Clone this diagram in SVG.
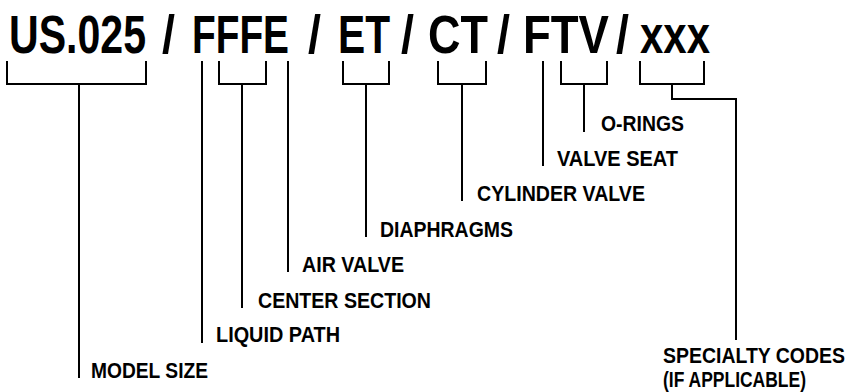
<svg xmlns="http://www.w3.org/2000/svg" width="847" height="392" viewBox="0 0 847 392">
<style>
.t{font-family:"Liberation Sans",Arial,sans-serif;font-weight:bold;fill:#000}
.title{font-size:43px}
.lbl{font-size:19px}
.c{fill:none;stroke:#000;stroke-width:2;stroke-linecap:butt;stroke-linejoin:miter}
</style>
<rect width="847" height="392" fill="#fff"/>
<g id="code">
<text class="t title" transform="translate(0,53) scale(1,1.23)" y="0"><tspan x="9" textLength="137" lengthAdjust="spacingAndGlyphs">US.025</tspan> <tspan x="162" textLength="13" lengthAdjust="spacingAndGlyphs">/</tspan> <tspan x="192" textLength="97" lengthAdjust="spacingAndGlyphs">FFFE</tspan> <tspan x="308" textLength="13" lengthAdjust="spacingAndGlyphs">/</tspan> <tspan x="338" textLength="52" lengthAdjust="spacingAndGlyphs">ET</tspan> <tspan x="401" textLength="13" lengthAdjust="spacingAndGlyphs">/</tspan> <tspan x="428" textLength="60" lengthAdjust="spacingAndGlyphs">CT</tspan> <tspan x="497" textLength="13" lengthAdjust="spacingAndGlyphs">/</tspan> <tspan x="523" textLength="86" lengthAdjust="spacingAndGlyphs">FTV</tspan> <tspan x="616" textLength="13" lengthAdjust="spacingAndGlyphs">/</tspan> <tspan x="640" textLength="70" lengthAdjust="spacingAndGlyphs">xxx</tspan></text>
</g>
<g id="connectors">
<path class="c" d="M7,61V84H146V61M79,84V378"/>
<path class="c" d="M202,61V343"/>
<path class="c" d="M219,61V84H266V61M242,84V308"/>
<path class="c" d="M288,61V272"/>
<path class="c" d="M343,61V84H389V61M366,84V237"/>
<path class="c" d="M438,61V84H486V61M462,84V201"/>
<path class="c" d="M543,61V166"/>
<path class="c" d="M561,61V84H607V61M584,84V132"/>
<path class="c" d="M640,61V84H704V61M672,84V99H736V340"/>
</g>
<g id="model-size"><text class="t lbl" transform="translate(91,378) scale(1,1.13)" textLength="117" lengthAdjust="spacingAndGlyphs">MODEL SIZE</text></g>
<g id="liquid-path"><text class="t lbl" transform="translate(216,342) scale(1,1.13)" textLength="124" lengthAdjust="spacingAndGlyphs">LIQUID PATH</text></g>
<g id="center-section"><text class="t lbl" transform="translate(258,308) scale(1,1.13)" textLength="173" lengthAdjust="spacingAndGlyphs">CENTER SECTION</text></g>
<g id="air-valve"><text class="t lbl" transform="translate(302,272) scale(1,1.13)" textLength="102" lengthAdjust="spacingAndGlyphs">AIR VALVE</text></g>
<g id="diaphragms"><text class="t lbl" transform="translate(380,237) scale(1,1.13)" textLength="133" lengthAdjust="spacingAndGlyphs">DIAPHRAGMS</text></g>
<g id="cylinder-valve"><text class="t lbl" transform="translate(477,201) scale(1,1.13)" textLength="168" lengthAdjust="spacingAndGlyphs">CYLINDER VALVE</text></g>
<g id="valve-seat"><text class="t lbl" transform="translate(557,166) scale(1,1.13)" textLength="121" lengthAdjust="spacingAndGlyphs">VALVE SEAT</text></g>
<g id="o-rings"><text class="t lbl" transform="translate(601,131) scale(1,1.13)" textLength="83" lengthAdjust="spacingAndGlyphs">O-RINGS</text></g>
<g id="specialty-codes"><text class="t lbl" transform="translate(663,363) scale(1,1.13)" textLength="182" lengthAdjust="spacingAndGlyphs">SPECIALTY CODES</text><text class="t lbl" transform="translate(663,387) scale(1,1.13)" textLength="143" lengthAdjust="spacingAndGlyphs">(IF APPLICABLE)</text></g>
</svg>
